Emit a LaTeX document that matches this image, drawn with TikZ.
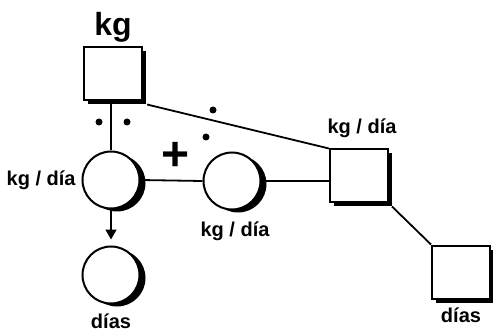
\documentclass[tikz,border=0pt]{standalone}
\usepackage{fontspec}
\setmainfont{Liberation Sans}
\usetikzlibrary{positioning, arrows.meta, shadows}

\tikzset{
  stockbox/.style={draw, line width=2pt, fill=white, minimum width=58pt, minimum height=53pt, inner sep=0pt,
    drop shadow={opacity=1, fill=black, shadow xshift=4pt, shadow yshift=-4pt}},
  flowcirc/.style={draw, circle, line width=2pt, fill=white, minimum size=57pt, inner sep=0pt,
    drop shadow={opacity=1, fill=black, shadow xshift=6pt, shadow yshift=-3pt}},
  lbl/.style={font=\bfseries\fontsize{20}{20}\selectfont, inner sep=1pt},
  dotmark/.style={circle, fill=black, minimum size=7pt, inner sep=0pt},
}

\begin{document}
\begin{tikzpicture}[x=1pt, y=-1pt, line width=1.8pt]
    \useasboundingbox (0,0) rectangle (493,334);
    \node[stockbox] (stock) at (113,74) {};
    \node[stockbox] (rate) at (359,176) {};
    \node[stockbox] (time) at (461,272) {};
    \node[flowcirc] (inflow) at (111,180) {};
    \node[flowcirc] (days) at (111,275) {};
    \node[flowcirc] (outflow) at (232,181) {};

    \node[lbl, font=\bfseries\fontsize{32}{32}\selectfont, above=2pt of stock] {kg};
    \node[lbl, left=4pt of inflow] {kg / día};
    \node[lbl, below=7pt of days] {días};
    \node[lbl, below=9pt of outflow, xshift=3pt] {kg / día};
    \node[lbl, above=9pt of rate, xshift=3pt] {kg / día};
    \node[lbl, below=6pt of time] {días};
    \node[font=\bfseries\fontsize{48}{48}\selectfont, inner sep=0pt] (plus) at (176,156) {+};

    \node[dotmark] (d1) at (99,122) {};
    \node[dotmark] (d2) at (127,122) {};
    \node[dotmark] (d3) at (213,110) {};
    \node[dotmark] (d4) at (206,137) {};

    \draw (stock.south -| inflow) -- (inflow.north);
    \draw ([shift={(4pt,-3pt)}]stock.south east) -- (rate.north west);
    \draw (inflow.east) -- (outflow.west);
    \draw (outflow.east) -- (outflow.east -| rate.west);
    \draw ([shift={(3pt,-3pt)}]rate.south east) -- (time.north west);
    \draw[-{Triangle[length=10pt, width=11pt]}, line width=1.4pt, shorten >=6pt] (inflow.south) -- (days.north);
\end{tikzpicture}
\end{document}
